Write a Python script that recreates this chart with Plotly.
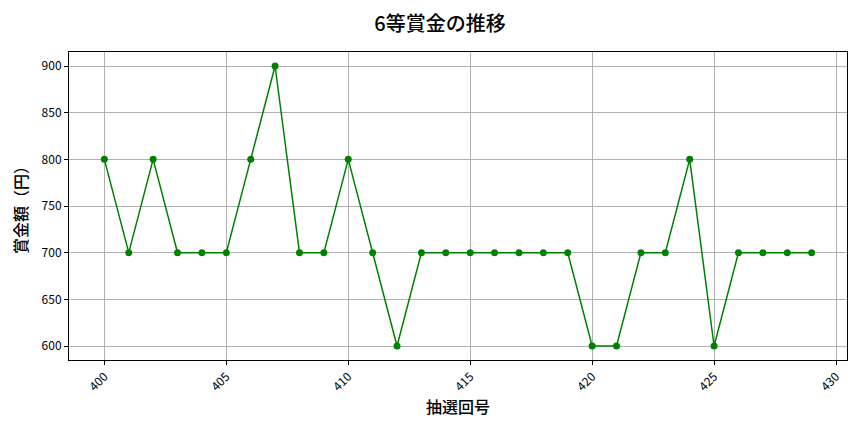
import plotly.graph_objects as go

# draw numbers and 6th prize amounts (yen)
draw_no = list(range(400, 430))
prize = [800, 700, 800, 700, 700, 700, 800, 900, 700, 700,
         800, 700, 600, 700, 700, 700, 700, 700, 700, 700,
         600, 600, 700, 700, 800, 600, 700, 700, 700, 700]

FONT = "Noto Sans CJK JP"

fig = go.Figure()
fig.add_trace(go.Scatter(
    x=draw_no, y=prize, mode="lines+markers",
    line=dict(color="green", width=1.5),
    marker=dict(color="green", size=7),
))

axis_common = dict(
    showgrid=True, gridcolor="#b0b0b0", gridwidth=0.8,
    showline=True, linecolor="black", linewidth=1, mirror=True,
    ticks="outside", ticklen=4, tickcolor="black",
    tickfont=dict(family=FONT, size=12, color="black"),
    zeroline=False,
)

fig.update_layout(
    width=864, height=432,
    margin=dict(l=61, r=25, t=44, b=80, autoexpand=False),
    paper_bgcolor="white", plot_bgcolor="white",
    showlegend=False,
    title=dict(text="6等賞金の推移", x=0.5, xanchor="center",
               yref="container", y=0.963, yanchor="middle",
               font=dict(family=FONT, size=20, color="black", weight=500)),
    xaxis=dict(axis_common, range=[398.55, 430.45], dtick=5, tick0=400,
               tickangle=-45,
               title=dict(text="抽選回号", font=dict(family=FONT, size=16, color="black", weight=500),
                          standoff=6)),
    yaxis=dict(axis_common, range=[585, 915], dtick=50,
               title=dict(text="賞金額（円）", font=dict(family=FONT, size=16, color="black", weight=500),
                          standoff=10)),
)

fig.write_html("out.html")
